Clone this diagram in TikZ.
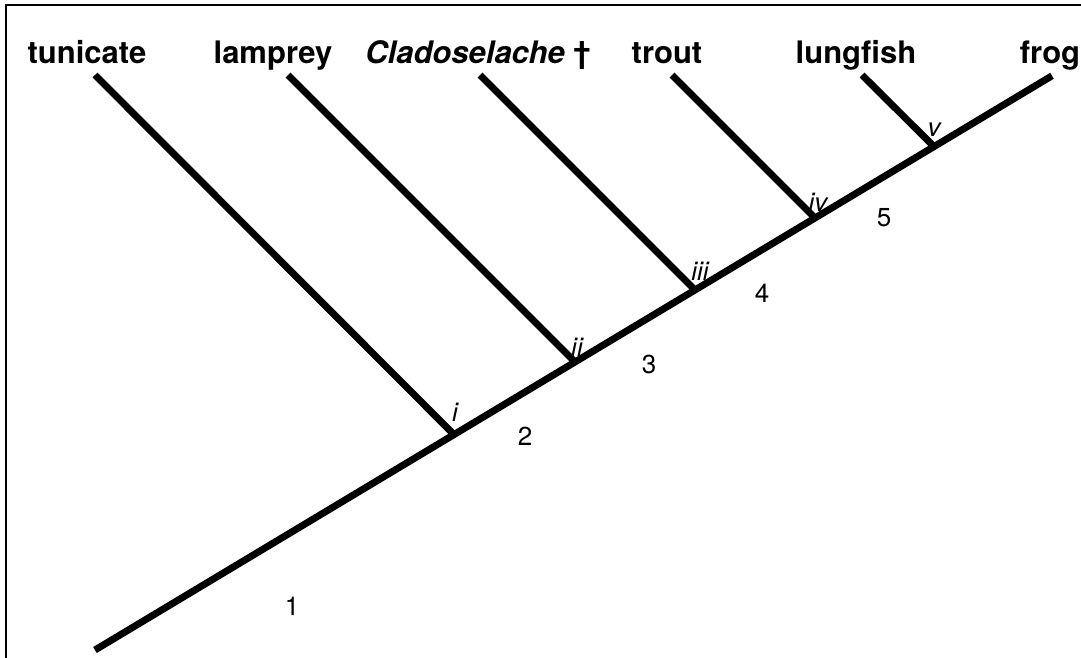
\documentclass[tikz,border=0pt]{standalone}
\usepackage{fontspec}
\setmainfont{TeX Gyre Heros}
\begin{document}
\begin{tikzpicture}[x=1pt,y=-1pt,
  branch/.style={line width=7pt},
  frame/.style={line width=2pt},
  taxon/.style={anchor=base,font=\fontsize{31}{36}\selectfont\bfseries,inner sep=0pt},
  numlab/.style={font=\fontsize{26}{30}\selectfont,inner sep=0pt},
  nodelab/.style={font=\fontsize{26}{30}\selectfont\itshape,inner sep=0pt}]
\useasboundingbox (0,0) rectangle (1081,658);
\fill[white] (0,0) rectangle (1081,658);
% frame
\coordinate (fb) at (6,670);
\coordinate (fc) at (6,5);
\coordinate (fr) at (1090,5);
\draw[frame] (fb) -- (fc) -- (fr);
% taxa labels
\node[taxon] (tun) at (87,64) {tunicate};
\node[taxon] (lam) at (273,64) {lamprey};
\node[taxon] (cla) at (478,64) {\textit{Cladoselache} †};
\node[taxon] (tro) at (667,64) {trout};
\node[taxon] (lun) at (856,64) {lungfish};
\node[taxon] (fro) at (1050,64) {frog};
% tips
\coordinate (t1) at (95,75);
\coordinate (t2) at (288,75);
\coordinate (t3) at (480,75);
\coordinate (t4) at (672,75);
\coordinate (t5) at (862,75);
\coordinate (t6) at (1052,75.8);
% root and junctions
\coordinate (root) at (95,650);
\coordinate (j1) at (454,434.6);
\coordinate (j2) at (575,362);
\coordinate (j3) at (695,290);
\coordinate (j4) at (815,218);
\coordinate (j5) at (934,146.6);
% branches
\draw[branch] (root) -- (t6);
\draw[branch] (t1) -- (j1);
\draw[branch] (t2) -- (j2);
\draw[branch] (t3) -- (j3);
\draw[branch] (t4) -- (j4);
\draw[branch] (t5) -- (j5);
% node labels
\node[nodelab] (ri) at (455,412) {i};
\node[nodelab] (rii) at (577,347) {ii};
\node[nodelab] (riii) at (700,271) {iii};
\node[nodelab] (riv) at (818,202) {iv};
\node[nodelab] (rv) at (934,130) {v};
% numbers
\node[numlab] (n1) at (292,606) {1};
\node[numlab] (n2) at (525,436) {2};
\node[numlab] (n3) at (649,364) {3};
\node[numlab] (n4) at (762,293) {4};
\node[numlab] (n5) at (884,218) {5};
\end{tikzpicture}
\end{document}
